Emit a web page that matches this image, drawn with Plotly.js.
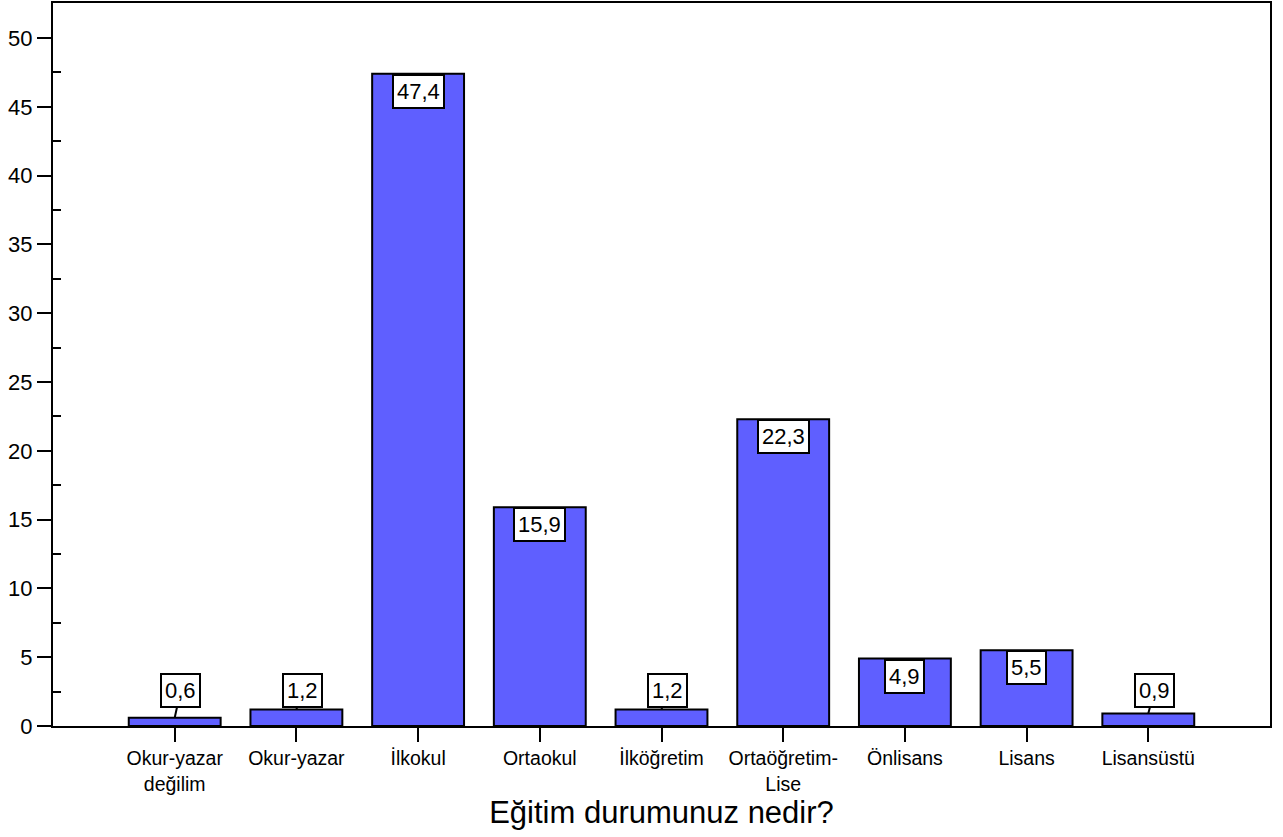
<!DOCTYPE html>
<html>
<head>
<meta charset="utf-8">
<script src="https://cdn.plot.ly/plotly-3.0.1.min.js"></script>
<style>html,body{margin:0;padding:0;background:#fff;}#chart{width:1283px;height:837px;}</style>
</head>
<body>
<div id="chart"></div>
<script>
// Data
const categories = ["Okur-yazar<br>değilim", "Okur-yazar", "İlkokul", "Ortaokul", "İlköğretim", "Ortaöğretim-<br>Lise", "Önlisans", "Lisans", "Lisansüstü"];
const percents = [0.6, 1.2, 47.4, 15.9, 1.2, 22.3, 4.9, 5.5, 0.9];
const valueLabels = ["0,6", "1,2", "47,4", "15,9", "1,2", "22,3", "4,9", "5,5", "0,9"];
const yTickValues = [0, 5, 10, 15, 20, 25, 30, 35, 40, 45, 50];
const xAxisTitle = "Eğitim durumunuz nedir?";

const FONT = "Arial, 'Liberation Sans', sans-serif";
const Y_RANGE = [0, 52.55];
const minorTickValues = yTickValues.map(v => v + 2.5);

const trace = {
  type: "bar",
  x: categories,
  y: percents,
  width: 0.755,
  marker: { color: "#5F5FFF", line: { color: "#000000", width: 2 } },
  hoverinfo: "skip"
};
// empty helper trace so the minor-tick overlay axis is drawn
const helper = { type: "scatter", mode: "markers", x: [categories[0]], y: [null], yaxis: "y2", hoverinfo: "skip", showlegend: false };

const annotations = categories.map((c, i) => {
  const v = percents[i];
  const base = {
    x: c, xref: "x", yref: "y",
    text: valueLabels[i],
    font: { family: FONT, size: 22, color: "#000" },
    bgcolor: "#ffffff",
    bordercolor: "#000000",
    borderwidth: 2,
    borderpad: 3
  };
  if (v >= 3) {
    return Object.assign(base, { y: v, yanchor: "top", showarrow: false });
  }
  return Object.assign(base, {
    y: v, showarrow: true, arrowhead: 0, arrowwidth: 2, arrowcolor: "#000",
    axref: "pixel", ax: 6, ayref: "y", ay: 2.6, standoff: 0
  });
});

const layout = {
  width: 1283, height: 837,
  margin: { l: 53, r: 13, t: 3, b: 111 },
  paper_bgcolor: "#fff", plot_bgcolor: "#fff",
  showlegend: false,
  font: { family: FONT, color: "#000" },
  xaxis: {
    type: "category",
    range: [-1, 9],
    showline: true, linecolor: "#000", linewidth: 2, mirror: true,
    ticks: "outside", ticklen: 14, tickwidth: 2, tickcolor: "#000",
    tickfont: { family: FONT, size: 19.5, color: "#000" },
    showgrid: false, zeroline: false,
    title: { text: xAxisTitle, font: { family: FONT, size: 31, color: "#000" }, standoff: 8 },
    automargin: false
  },
  yaxis: {
    range: Y_RANGE,
    tickmode: "array", tickvals: yTickValues, ticktext: yTickValues.map(String),
    showline: true, linecolor: "#000", linewidth: 2, mirror: true,
    ticks: "outside", ticklen: 14, tickwidth: 2, tickcolor: "#000",
    tickfont: { family: FONT, size: 22, color: "#000" },
    showgrid: false, zeroline: false,
    automargin: false
  },
  yaxis2: {
    overlaying: "y", side: "left", anchor: "x",
    range: Y_RANGE,
    tickmode: "array", tickvals: minorTickValues, showticklabels: false,
    ticks: "inside", ticklen: 8, tickwidth: 2, tickcolor: "#000",
    showline: false, showgrid: false, zeroline: false,
    automargin: false
  },
  annotations: annotations
};

Plotly.newPlot("chart", [trace, helper], layout, { displayModeBar: false, staticPlot: true });
</script>
</body>
</html>
